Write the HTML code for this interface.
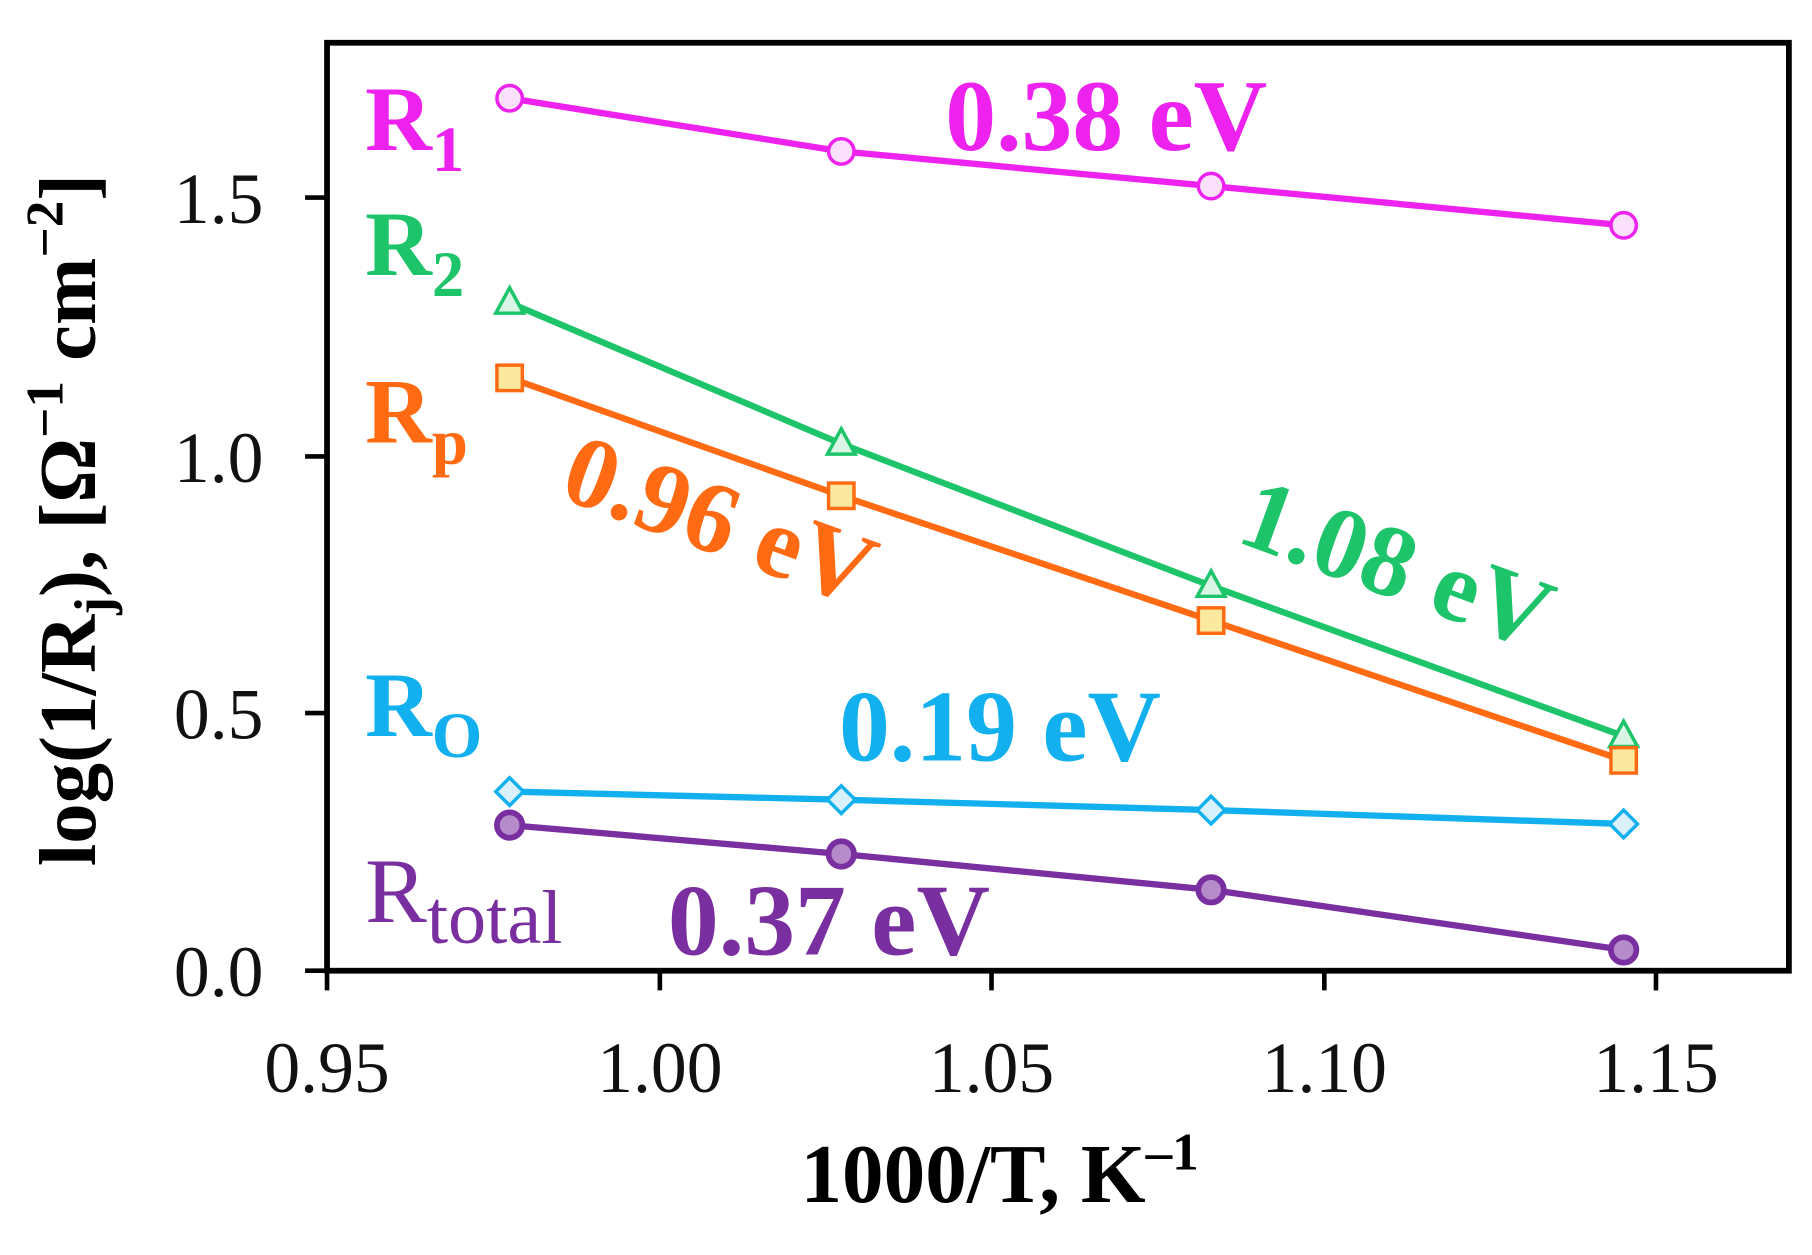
<!DOCTYPE html>
<html><head><style>html,body{margin:0;padding:0;background:#fff}svg{display:block}</style></head><body>
<svg width="1812" height="1255" viewBox="0 0 1568 1086" preserveAspectRatio="none" xmlns="http://www.w3.org/2000/svg" font-family="Liberation Serif, serif">
<rect x="283" y="37" width="1265" height="803" fill="none" stroke="#000" stroke-width="5"/>
<g stroke="#000" stroke-width="4">
<line x1="264" y1="840" x2="283" y2="840"/><line x1="264" y1="617" x2="283" y2="617"/><line x1="264" y1="395" x2="283" y2="395"/><line x1="264" y1="171" x2="283" y2="171"/>
<line x1="283" y1="840" x2="283" y2="857"/><line x1="571" y1="840" x2="571" y2="857"/><line x1="858" y1="840" x2="858" y2="857"/><line x1="1146" y1="840" x2="1146" y2="857"/><line x1="1433" y1="840" x2="1433" y2="857"/>
</g>
<g font-size="62" text-anchor="end" fill="#111">
<text x="228" y="862">0.0</text><text x="228" y="639">0.5</text><text x="228" y="417">1.0</text><text x="228" y="193">1.5</text>
</g>
<g font-size="62" text-anchor="middle" fill="#111">
<text x="283" y="945">0.95</text><text x="571" y="945">1.00</text><text x="858" y="945">1.05</text><text x="1146" y="945">1.10</text><text x="1433" y="945">1.15</text>
</g>
<text x="865" y="1040" font-size="72" font-weight="bold" text-anchor="middle">1000/T, K<tspan font-size="46" dy="-28">–1</tspan></text>
<text transform="translate(82,450) rotate(-90)" font-size="70" font-weight="bold" text-anchor="middle">log(1/R<tspan font-size="46" dy="14">j</tspan><tspan dy="-14">), [Ω</tspan><tspan font-size="46" dy="-28">−1</tspan><tspan dy="28"> cm</tspan><tspan font-size="46" dy="-28">−2</tspan><tspan dy="28">]</tspan></text>
<g fill="none" stroke-width="5.5">
<polyline stroke="#ee22ee" points="441,85 728,131 1048,161 1405,195"/>
<polyline stroke="#1ec46a" points="441,262 728,384 1048,507 1405,637"/>
<polyline stroke="#ff6a13" points="441,327 728,429 1048,537 1405,658"/>
<polyline stroke="#12b0ee" points="441,685 728,692 1048,701 1405,713"/>
<polyline stroke="#7a2fa0" points="441,714 728,739 1048,770 1405,822"/>
</g>
<g fill="#fbe0fb" stroke="#ee22ee" stroke-width="3">
<circle cx="441" cy="85" r="11"/><circle cx="728" cy="131" r="11"/><circle cx="1048" cy="161" r="11"/><circle cx="1405" cy="195" r="11"/></g>
<g fill="#d9f5e5" stroke="#1ec46a" stroke-width="3">
<polygon points="441,249 453,271 429,271"/><polygon points="728,371 740,393 716,393"/><polygon points="1048,494 1060,516 1036,516"/><polygon points="1405,624 1417,646 1393,646"/></g>
<g fill="#fbe9a0" stroke="#ff6a13" stroke-width="3">
<rect x="430" y="316" width="22" height="22"/><rect x="717" y="418" width="22" height="22"/><rect x="1037" y="526" width="22" height="22"/><rect x="1394" y="647" width="22" height="22"/></g>
<g fill="#d9f1fb" stroke="#12b0ee" stroke-width="3">
<polygon points="441,673 453,685 441,697 429,685"/><polygon points="728,680 740,692 728,704 716,692"/><polygon points="1048,689 1060,701 1048,713 1036,701"/><polygon points="1405,701 1417,713 1405,725 1393,713"/></g>
<g fill="#b58cc9" stroke="#7a2fa0" stroke-width="5">
<circle cx="441" cy="714" r="11"/><circle cx="728" cy="739" r="11"/><circle cx="1048" cy="770" r="11"/><circle cx="1405" cy="822" r="11"/></g>
<g font-size="80" font-weight="bold">
<text x="316" y="130" fill="#ee22ee">R<tspan font-size="56" dy="18">1</tspan></text>
<text x="818" y="130" font-size="88" fill="#ee22ee">0.38 eV</text>
<text x="316" y="238" fill="#1ec46a">R<tspan font-size="56" dy="18">2</tspan></text>
<text x="316" y="383" fill="#ff6a13">R<tspan font-size="56" dy="18">p</tspan></text>
<text transform="translate(482,430) rotate(20)" font-size="88" fill="#ff6a13">0.96 eV</text>
<text transform="translate(1068,468) rotate(20)" font-size="88" fill="#1ec46a">1.08 eV</text>
<text x="316" y="637" fill="#12b0ee">R<tspan font-size="56" dy="18">O</tspan></text>
<text x="726" y="658" font-size="88" fill="#12b0ee">0.19 eV</text>
<text x="316" y="798" fill="#7a2fa0" font-weight="normal">R<tspan font-size="66" dy="18">total</tspan></text>
<text x="578" y="826" font-size="88" fill="#7a2fa0">0.37 eV</text>
</g>
</svg>
</body></html>
